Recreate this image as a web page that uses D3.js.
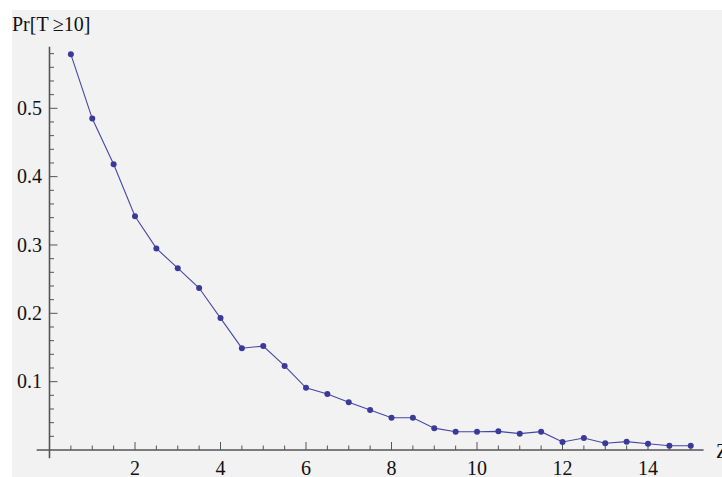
<!DOCTYPE html>
<html>
<head>
<style>
  body { margin: 0; background: #fff; }
  svg { display: block; }
  .lbl { font-family: "Liberation Serif", "DejaVu Serif", serif; font-size: 20px; fill: #111; }
</style>
</head>
<body>
<svg width="722" height="477"></svg>
<script src="https://d3js.org/d3.v7.min.js"></script>
<script>
// lambda values (x) and Pr[T>=10] estimates
var xs = [0.5, 1, 1.5, 2, 2.5, 3, 3.5, 4, 4.5, 5, 5.5, 6, 6.5, 7, 7.5,
          8, 8.5, 9, 9.5, 10, 10.5, 11, 11.5, 12, 12.5, 13, 13.5, 14, 14.5, 15];
var probs = [0.579, 0.485, 0.418, 0.342, 0.295, 0.266, 0.237, 0.193, 0.149, 0.152,
             0.123, 0.091, 0.082, 0.070, 0.0585, 0.0473, 0.0473, 0.032, 0.0268, 0.0268,
             0.0273, 0.0239, 0.0268, 0.0117, 0.0176, 0.0098, 0.0122, 0.0092, 0.0063, 0.0063];
var xTickLabels = [2, 4, 6, 8, 10, 12, 14];
var yTickLabels = [0.1, 0.2, 0.3, 0.4, 0.5];
var yLabel = "Pr[T\u2009\u226510]";

var data = xs.map(function(x, i) { return {x: x, p: probs[i]}; });

var svg = d3.select("svg");

// panel background
svg.append("rect").attr("x", 12).attr("y", 10).attr("width", 710).attr("height", 467)
  .attr("fill", "#f2f2f2");

var x = d3.scaleLinear().domain([0, 15]).range([49.5, 690.75]);
var y = d3.scaleLinear().domain([0, 0.5]).range([450, 108.3]);

var axisColor = "#555";

// axis lines
svg.append("line").attr("x1", x(-0.3)).attr("x2", x(15.3)).attr("y1", y(0)).attr("y2", y(0))
  .attr("stroke", axisColor).attr("stroke-width", 1.3);
svg.append("line").attr("x1", x(0)).attr("x2", x(0)).attr("y1", y(-0.012)).attr("y2", y(0.59))
  .attr("stroke", axisColor).attr("stroke-width", 1.6);

// x ticks: minor every 0.5, major at labels
var xMinor = d3.range(0.5, 15.01, 0.5);
svg.append("g").selectAll("line").data(xMinor).enter().append("line")
  .attr("x1", function(d) { return x(d); })
  .attr("x2", function(d) { return x(d); })
  .attr("y1", y(0))
  .attr("y2", function(d) { return xTickLabels.indexOf(d) >= 0 ? y(0) - 8 : y(0) - 4.5; })
  .attr("stroke", axisColor).attr("stroke-width", 1);

svg.append("g").selectAll("text").data(xTickLabels).enter().append("text")
  .attr("class", "lbl")
  .attr("x", function(d) { return x(d); })
  .attr("y", 475)
  .attr("text-anchor", "middle")
  .text(function(d) { return d; });

// y ticks: minor every 0.02
var yMinor = d3.range(1, 30).map(function(i) { return i * 0.02; });
svg.append("g").selectAll("line").data(yMinor).enter().append("line")
  .attr("x1", x(0))
  .attr("x2", function(d, i) { return (i + 1) % 5 === 0 ? x(0) + 8 : x(0) + 4.5; })
  .attr("y1", function(d) { return y(d); })
  .attr("y2", function(d) { return y(d); })
  .attr("stroke", axisColor).attr("stroke-width", 1);

svg.append("g").selectAll("text").data(yTickLabels).enter().append("text")
  .attr("class", "lbl")
  .attr("x", 42)
  .attr("y", function(d) { return y(d); })
  .attr("dy", "0.33em")
  .attr("text-anchor", "end")
  .text(function(d) { return d; });

// axis labels
svg.append("text").attr("class", "lbl").attr("x", 12).attr("y", 31).text(yLabel);
svg.append("text").attr("class", "lbl").attr("x", 716).attr("y", 458).text("Z");

// line + points
var line = d3.line().x(function(d) { return x(d.x); }).y(function(d) { return y(d.p); });
svg.append("path").attr("d", line(data))
  .attr("fill", "none").attr("stroke", "#4646a6").attr("stroke-width", 1.1);

svg.selectAll("circle.pt").data(data).enter().append("circle")
  .attr("class", "pt")
  .attr("cx", function(d) { return x(d.x); })
  .attr("cy", function(d) { return y(d.p); })
  .attr("r", 3)
  .attr("fill", "#3a3a98");
</script>
</body>
</html>
